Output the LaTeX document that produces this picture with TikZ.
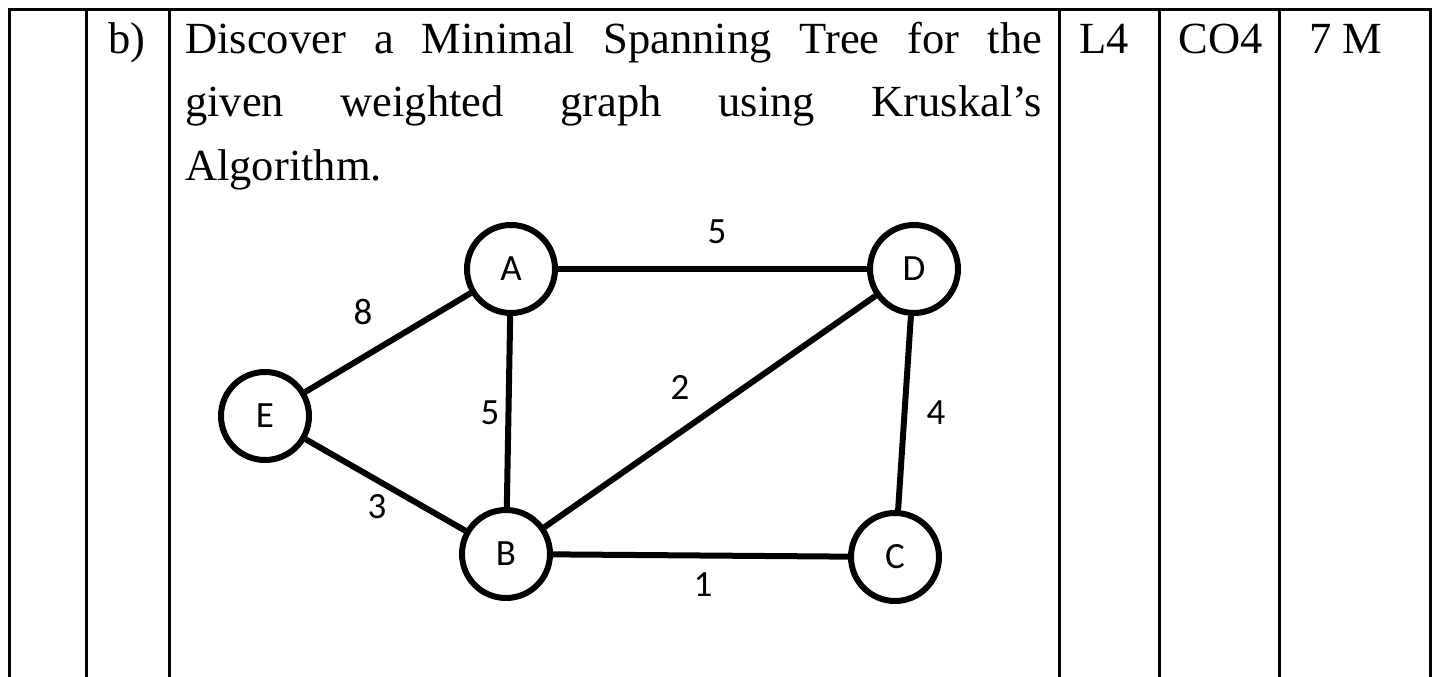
\documentclass[tikz,border=0pt]{standalone}
\usepackage{fontspec}
\setmainfont{Liberation Serif}
\newfontfamily\lblfont{Carlito}
\begin{document}
\begin{tikzpicture}[x=1pt,y=-1pt,
  vtx/.style={circle,draw,line width=6pt,minimum size=88pt,inner sep=0pt,font=\lblfont\fontsize{37}{42}\selectfont},
  edge/.style={line width=6pt},
  wlbl/.style={font=\lblfont\fontsize{37}{42}\selectfont,inner sep=0pt},
  txt/.style={font=\fontsize{44.5}{63}\selectfont,inner sep=0pt,anchor=base west},
  ctxt/.style={txt,anchor=base},
  rule/.style={line width=3pt}]
\useasboundingbox (0,0) rectangle (1436,677);
\fill[white] (0,0) rectangle (1436,677);
% table rules
\draw[rule] (9,677) -- (9,10) -- (1430,10) -- (1430,677);
\draw[rule] (86,10) -- (86,677);
\draw[rule] (169,10) -- (169,677);
\draw[rule] (1059,10) -- (1059,677);
\draw[rule] (1159,10) -- (1159,677);
\draw[rule] (1279,10) -- (1279,677);
% texts
\node[ctxt] (part) at (127,54) {b)};
\node[txt] (l1) at (185,54) {\makebox[857pt][s]{Discover a Minimal Spanning Tree for the}};
\node[txt] (l2) at (185,117) {\makebox[857pt][s]{given weighted graph using Kruskal’s}};
\node[txt] (l3) at (185,180) {Algorithm.};
\node[ctxt] (lvl) at (1104,54) {L4};
\node[ctxt] (co) at (1221,54) {CO4};
\node[ctxt] (mk) at (1346,54) {7 M};
% graph
\node[vtx] (A) at (511,269) {A};
\node[vtx] (D) at (914,269) {D};
\node[vtx] (E) at (265,416) {E};
\node[vtx] (B) at (506,554) {B};
\node[vtx] (C) at (895,557) {C};
\draw[edge] (A) -- (D);
\draw[edge] (E) -- (A);
\draw[edge] (A) -- (B);
\draw[edge] (E) -- (B);
\draw[edge] (B) -- (D);
\draw[edge] (D) -- (C);
\draw[edge] (B) -- (C);
\node[wlbl] (wAD) at (717,232) {5};
\node[wlbl] (wEA) at (363,312) {8};
\node[wlbl] (wAB) at (490,413) {5};
\node[wlbl] (wBD) at (680,387) {2};
\node[wlbl] (wDC) at (936,413) {4};
\node[wlbl] (wEB) at (377,507) {3};
\node[wlbl] (wBC) at (703,585) {1};
\end{tikzpicture}
\end{document}
